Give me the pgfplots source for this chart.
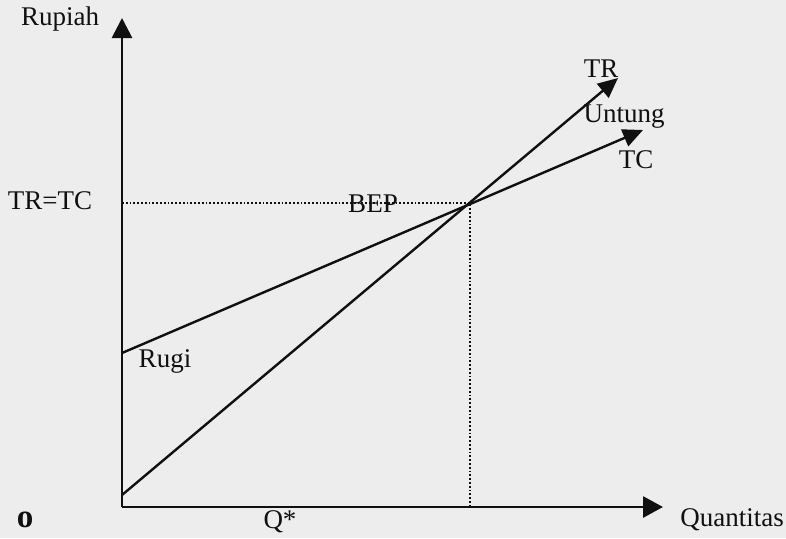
\documentclass[border=0pt]{standalone}
\usepackage{fontspec}
\setmainfont{Liberation Serif}
\usepackage{pgfplots}
\pgfplotsset{compat=1.18}
\usetikzlibrary{arrows.meta}
\definecolor{paper}{HTML}{EDEDED}
\definecolor{ink}{HTML}{101010}

\begin{document}
\fontsize{13.5}{16}\selectfont
\begin{tikzpicture}
\begin{axis}[
    x=0.5pt, y=0.5pt,
    xmin=-122, xmax=664,
    ymin=-31, ymax=507,
    hide axis,
    clip=false,
    axis background/.style={fill=paper},
]
% sumbu
\addplot[ink, line width=1.4pt, -{Triangle[length=10pt,width=10pt]}] coordinates {(0,0) (0,489)};
\addplot[ink, line width=1.4pt, -{Triangle[length=10pt,width=10.5pt]}] coordinates {(0,0) (541,0)};
% garis bantu BEP
\addplot[ink, line width=0.9pt, densely dotted] coordinates {(0,304) (348,304) (348,0)};
% TR dan TC
\addplot[ink, line width=1.2pt, -{Triangle[length=10pt,width=9pt]}] coordinates {(0,12) (496,429)};
\addplot[ink, line width=1.2pt, -{Triangle[length=10pt,width=9pt]}] coordinates {(0,154) (521,377)};
% label
\node[inner sep=0pt, text=ink] at (axis cs:-62,488) {Rupiah};
\node[inner sep=0pt, text=ink] at (axis cs:-72,306) {TR=TC};
\node[inner sep=0pt, text=ink] at (axis cs:-97,-13) {\fontsize{16.5}{18}\selectfont\textbf{o}};
\node[inner sep=0pt, text=ink] at (axis cs:158,-15) {Q*};
\node[inner sep=0pt, text=ink] at (axis cs:610,-13) {Quantitas};
\node[inner sep=0pt, text=ink] at (axis cs:479,438) {TR};
\node[inner sep=0pt, text=ink] at (axis cs:502,390) {Untung};
\node[inner sep=0pt, text=ink] at (axis cs:514,347) {TC};
\node[inner sep=0pt, text=ink] at (axis cs:43,146) {Rugi};
\node[inner sep=0pt, text=ink] at (axis cs:251,303) {BEP};
\end{axis}
\end{tikzpicture}
\end{document}
